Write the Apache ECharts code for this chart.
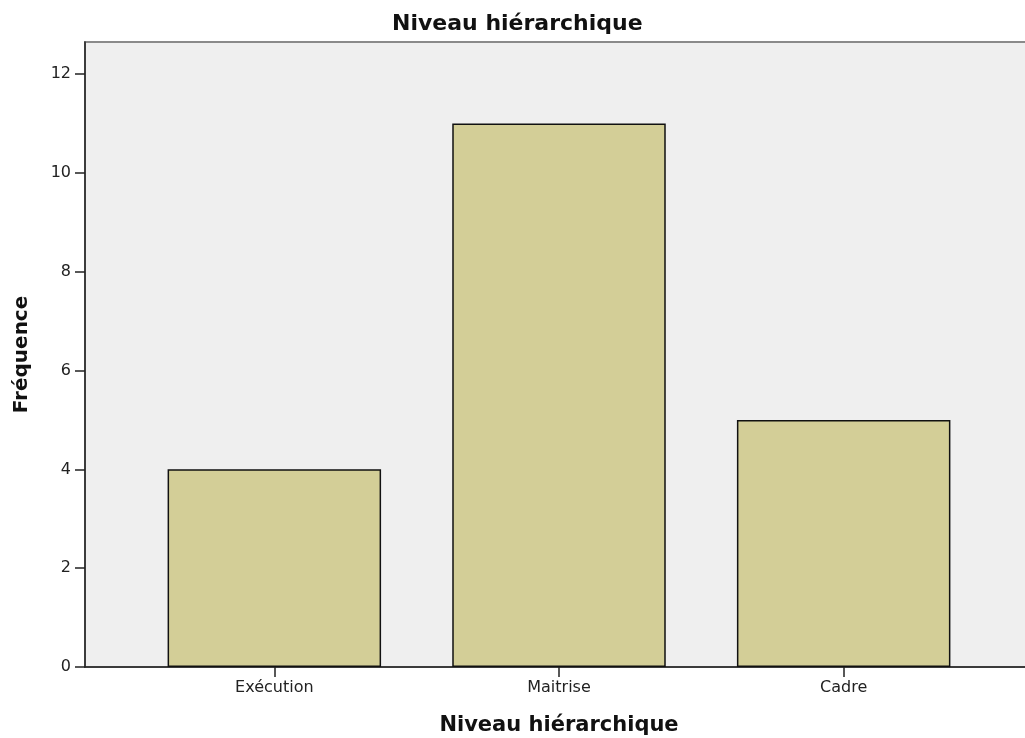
<!DOCTYPE html>
<html lang="fr">
<head>
    <meta charset="UTF-8">
    <title>Niveau hiérarchique</title>
    <script src="https://cdn.jsdelivr.net/npm/echarts@6/dist/echarts.min.js"></script>
    <style>
      *{margin:0;padding:0}
      html,body{width:100%;height:100%;background:#fff}
      #main{width:1025px;height:738px}
    </style>
</head>
<body>
<div id="main"></div>
<script>
    // données
    var categories = ['Exécution', 'Maitrise', 'Cadre'];
    var frequences = [4, 11, 5];
    var yTicks = [0, 2, 4, 6, 8, 10, 12];
    var yMax = 12.65;

    var chart = echarts.init(document.getElementById('main'));
    var font = 'DejaVu Sans';

    var option = {
        backgroundColor: '#fff',
        animation: false,
        title: {
            text: 'Niveau hiérarchique',
            left: 387,
            top: 8,
            textStyle: {fontFamily: font, fontSize: 22, fontWeight: 'bold', color: '#111'}
        },
        grid: [
            // cadre gris + axes
            {left: 85, right: -2, top: 42, bottom: 71, show: true, outerBoundsMode: 'none', containLabel: false,
             backgroundColor: '#efefef', borderColor: '#8a8a8a', borderWidth: 2},
            // zone des barres (SPSS laisse une marge de chaque côté)
            {left: 132, right: 39, top: 42, bottom: 71, outerBoundsMode: 'none', containLabel: false}
        ],
        xAxis: [
            {gridIndex: 0, type: 'value', min: 0, max: 1,
             axisLine: {show: true, lineStyle: {color: '#222', width: 1.5}},
             axisTick: {show: false}, axisLabel: {show: false}, splitLine: {show: false}},
            {gridIndex: 1, type: 'category', data: categories,
             name: 'Niveau hiérarchique', nameLocation: 'middle', nameGap: 48,
             nameTextStyle: {fontFamily: font, fontSize: 21, fontWeight: 'bold', color: '#111'},
             axisLine: {show: false},
             axisTick: {show: true, alignWithLabel: true, length: 10, lineStyle: {color: '#222', width: 1.5}},
             axisLabel: {margin: 13, fontFamily: font, fontSize: 16, color: '#222'}}
        ],
        yAxis: [
            {gridIndex: 0, type: 'value', min: 0, max: yMax,
             name: 'Fréquence', nameLocation: 'middle', nameGap: 53,
             nameTextStyle: {fontFamily: font, fontSize: 20, fontWeight: 'bold', color: '#111'},
             axisLine: {show: true, lineStyle: {color: '#222', width: 1.5}},
             axisTick: {show: true, length: 10, customValues: yTicks, lineStyle: {color: '#222', width: 1.5}},
             axisLabel: {margin: 14, fontFamily: font, fontSize: 16, color: '#222', customValues: yTicks},
             splitLine: {show: false}},
            {gridIndex: 1, type: 'value', min: 0, max: yMax, show: false, splitLine: {show: false}}
        ],
        series: [{
            type: 'bar',
            xAxisIndex: 1,
            yAxisIndex: 1,
            data: frequences,
            barWidth: '75%',
            itemStyle: {color: '#d3ce97', borderColor: '#111', borderWidth: 1.5}
        }]
    };
    chart.setOption(option);
</script>
</body>
</html>
